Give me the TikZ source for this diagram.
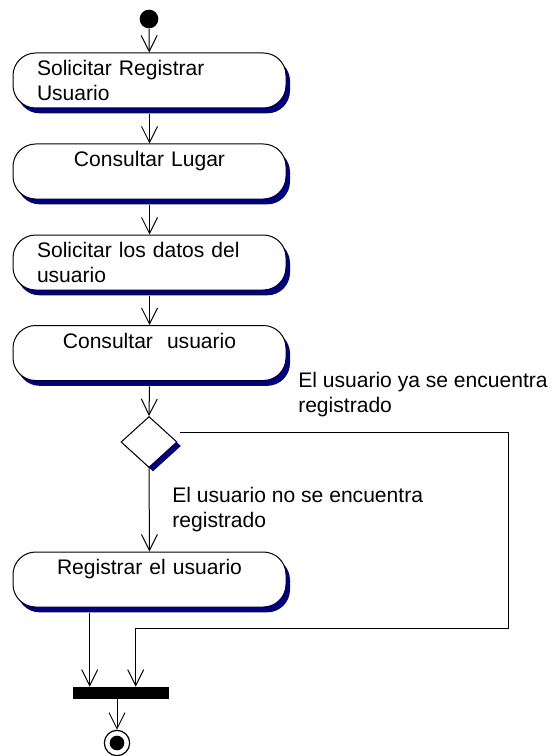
\documentclass[tikz,border=0pt]{standalone}
\usepackage{fontspec}
\setmainfont{Liberation Sans}
\usetikzlibrary{arrows.meta,shapes.geometric,shadows,calc}
\definecolor{shadownavy}{RGB}{0,0,128}

\begin{document}
\begin{tikzpicture}[
    x=0.75pt,y=-0.75pt,
    font=\fontsize{15.8pt}{18.75pt}\selectfont,
    activity/.style={draw,fill=white,line width=0.75pt,rounded corners=17pt,
        minimum width=204.75pt,minimum height=41.25pt,text width=168.75pt,
        inner xsep=18pt,inner ysep=2pt,
        drop shadow={shadow xshift=3pt,shadow yshift=-4pt,fill=shadownavy,opacity=1}},
    decision/.style={diamond,draw,fill=white,line width=0.75pt,inner sep=0pt,
        minimum width=42pt,minimum height=38.25pt,
        drop shadow={shadow xshift=3pt,shadow yshift=-3pt,fill=shadownavy,opacity=1}},
    guard/.style={align=left,inner sep=0pt},
    flow/.style={->,line width=0.75pt},
    >={Straight Barb[length=12pt,width=12pt]}
]
\useasboundingbox (0,0) rectangle (557,756);

\node[circle,fill=black,minimum size=14pt,inner sep=0pt] (start) at (149,19) {};
\node[activity,align=left] (solicitar) at (149.5,80.5) {Solicitar Registrar\\Usuario};
\node[activity,align=center] (lugar) at (149.5,171.5) {Consultar Lugar\\~};
\node[activity,align=left] (datos) at (149.5,262.5) {Solicitar los datos del\\usuario};
\node[activity,align=center] (consultar) at (149.5,353) {Consultar~ usuario\\~};
\node[decision] (dec) at (149,442) {};
\node[activity,align=center] (registrar) at (149.5,579.5) {Registrar el usuario\\~};
\node[fill=black,minimum width=72pt,minimum height=9pt,inner sep=0pt] (join) at (121,693) {};
\node[draw,circle,line width=0.9pt,minimum size=19pt,inner sep=0pt] (finish) at (117,743) {};
\fill (finish.center) circle (5.5pt);

\node[guard,anchor=west] (yes) at (298,395) {El usuario ya se encuentra\\registrado};

\coordinate (solicitarb) at ([yshift=-4pt]solicitar.south);
\coordinate (lugarb) at ([yshift=-4pt]lugar.south);
\coordinate (datosb) at ([yshift=-4pt]datos.south);
\coordinate (consultarb) at ([yshift=-4pt]consultar.south);
\coordinate (registrarb) at ([yshift=-4pt]registrar.south);
\coordinate (joinL) at ([xshift=12.75pt]join.north west);
\coordinate (joinR) at ([xshift=47.25pt]join.north west);
\coordinate (back) at (508,628);

\draw[flow] (start) -- (solicitar);
\draw[flow] (solicitarb) -- (lugar.north);
\draw[flow] (lugarb) -- (datos.north);
\draw[flow] (datosb) -- (consultar.north);
\draw[flow] (consultarb) -- (dec.north);
\draw[flow] (dec.south) -- (registrar.north)
    node[guard,midway,anchor=west,xshift=17pt] (no) {El usuario no se encuentra\\registrado};
\draw[flow] ($(dec.east)+(2,-10)$) -| (back) -| (joinR);
\draw[flow] (registrarb -| joinL) -- (joinL);
\draw[flow] (join.south -| finish) -- (finish.north);
\end{tikzpicture}
\end{document}
